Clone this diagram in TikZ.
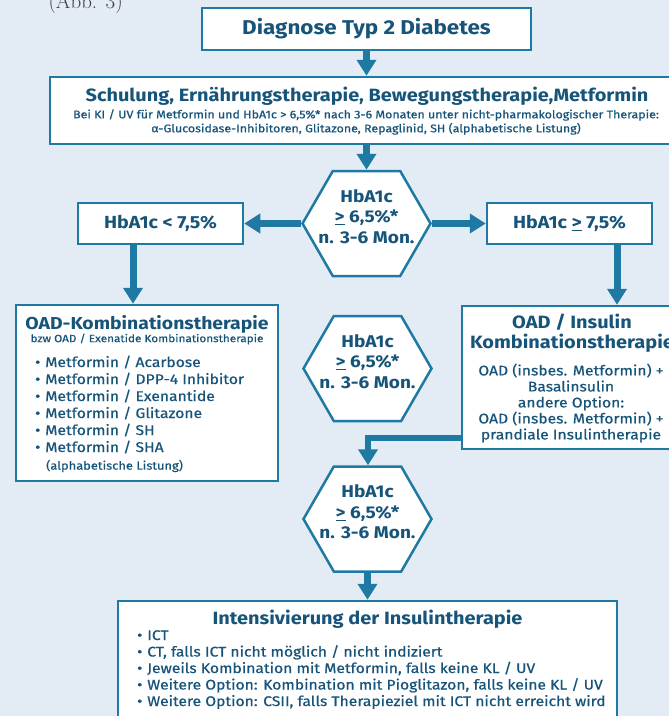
\documentclass[tikz,border=0pt]{standalone}
\usepackage{fontspec}
\newfontfamily\ffont[FakeStretch=1.12]{Fira Sans}
\newfontfamily\fmed[FakeStretch=1.12,FakeBold=0.6]{Fira Sans}
\usepackage{xcolor}
\usetikzlibrary{arrows.meta,positioning,shapes.symbols}
\definecolor{bgblue}{RGB}{227,236,245}
\definecolor{lineblue}{RGB}{30,122,162}
\definecolor{txtblue}{RGB}{22,84,122}
\newcommand{\itm}{•\hspace{5pt}}
\tikzset{%
	box/.style     = {draw=lineblue, line width=2.5pt, fill=white, rectangle, text=txtblue, inner sep=0pt},
	hexa/.style    = {draw=lineblue, line width=2.5pt, fill=white, shape=signal, signal to=east and west, signal pointer angle=120, minimum width=128pt, minimum height=105pt, inner sep=0pt},
	hextext/.style = {text=txtblue, font=\ffont\fontsize{17}{20.5}\selectfont\bfseries, align=center, inner sep=0pt},
	ttl/.style     = {text=txtblue, font=\ffont\fontsize{17.8}{20}\selectfont\bfseries, align=center, inner sep=0pt},
	headline/.style= {font=\ffont\fontsize{17.5}{20}\selectfont\bfseries},
	sml/.style     = {text=txtblue, font=\fmed\fontsize{11.5}{14}\selectfont, align=center, inner sep=0pt},
	lst/.style     = {text=txtblue, font=\fmed\fontsize{14}{17}\selectfont, align=left, anchor=north west, inner sep=0pt},
	arrow/.style   = {line width=7pt, draw=lineblue, -{Triangle[length=16pt,width=19pt]}},
}

\begin{document}
\begin{tikzpicture}[x=1pt,y=-1pt]
	\fill[bgblue] (0,0) rectangle (669,716);
	\useasboundingbox (0,0) rectangle (669,716);
	\node[anchor=base west, font=\fontsize{21}{24}\selectfont, text=black!75] (abb) at (45,8) {(Abb. 3)};
	% boxes
	\node[box, minimum width=329pt, minimum height=42pt, font=\ffont\fontsize{20}{24}\selectfont\bfseries] (diag) at (366.5,29) {Diagnose Typ 2 Diabetes};
	\node[box, minimum width=634pt, minimum height=67pt] (schul) at (367,110.5) {};
	\node[ttl] (schult) at (367,96) {Schulung, Ernährungstherapie, Bewegungstherapie,Metformin};
	\node[sml, font=\fmed\fontsize{11.1}{14}\selectfont] (schuls) at (366,122) {Bei KI / UV für Metformin und HbA1c > 6,5\%* nach 3-6 Monaten unter nicht-pharmakologischer Therapie:\\α-Glucosidase-Inhibitoren, Glitazone, Repaglinid, SH (alphabetische Listung)};
	\node[hexa] (h1) at (366.5,223.5) {};
	\node[hextext] (h1t) at (366.5,216.5) {HbA1c\\\underline{>} 6,5\%*\\n. 3-6 Mon.};
	\node[box, headline, minimum width=165pt, minimum height=41pt] (lt) at (160.5,223.5) {HbA1c < 7,5\%};
	\node[box, headline, minimum width=165pt, minimum height=41pt] (ge) at (569.5,223.5) {HbA1c \underline{>} 7,5\%};
	\node[box, minimum width=262pt, minimum height=176pt] (oad) at (147,393) {};
	\node[ttl, font=\ffont\fontsize{17.3}{20}\selectfont\bfseries] (oadt) at (147,324) {OAD-Kombinationstherapie};
	\node[sml, font=\fmed\fontsize{10.5}{14}\selectfont] (oads) at (147,339) {bzw OAD / Exenatide Kombinationstherapie};
	\node[lst] (oadl) at (35,355.5) {\itm Metformin / Acarbose\\\itm Metformin / DPP-4 Inhibitor\\\itm Metformin / Exenantide\\\itm Metformin / Glitazone\\\itm Metformin / SH\\\itm Metformin / SHA};
	\node[sml, anchor=west] (oadn) at (46,466) {(alphabetische Listung)};
	\node[hexa] (h2) at (367.5,368.5) {};
	\node[hextext] (h2t) at (367.5,361.5) {HbA1c\\\underline{>} 6,5\%*\\n. 3-6 Mon.};
	\node[box, minimum width=220pt, minimum height=143pt] (oi) at (572,377.5) {};
	\node[ttl] (oit) at (572,333) {OAD / Insulin\\Kombinationstherapie};
	\node[lst, anchor=center, align=center, font=\fmed\fontsize{14}{16}\selectfont] (oib) at (571,403) {OAD (insbes. Metformin) +\\Basalinsulin\\andere Option:\\OAD (insbes. Metformin) +\\prandiale Insulintherapie};
	\node[hexa] (h3) at (367.5,519) {};
	\node[hextext] (h3t) at (367.5,512) {HbA1c\\\underline{>} 6,5\%*\\n. 3-6 Mon.};
	\node[box, minimum width=499pt, minimum height=139pt] (intens) at (367.5,670.5) {};
	\node[ttl] (intenst) at (367.5,619) {Intensivierung der Insulintherapie};
	\node[lst, font=\fmed\fontsize{14}{16.5}\selectfont] (intensl) at (137,630) {\itm ICT\\\itm CT, falls ICT nicht möglich / nicht indiziert\\\itm Jeweils Kombination mit Metformin, falls keine KL / UV\\\itm Weitere Option: Kombination mit Pioglitazon, falls keine KL / UV\\\itm Weitere Option: CSII, falls Therapieziel mit ICT nicht erreicht wird};
	% connectors
	\coordinate (ldown) at (133,0);
	\coordinate (rdown) at (617,0);
	\coordinate (knick) at (368,438);
	\draw[arrow] (diag.south) -- (diag.south |- schul.north);
	\draw[arrow] (schul.south -| h1.north) -- (h1.north);
	\draw[arrow] (h1.west) -- (lt.east);
	\draw[arrow] (h1.east) -- (ge.west);
	\draw[arrow] (lt.south -| ldown) -- (oad.north -| ldown);
	\draw[arrow] (ge.south -| rdown) -- (oi.north -| rdown);
	\draw[arrow, line width=6pt] (oi.west |- knick) -- (knick) -- (h3.north -| knick);
	\draw[arrow] (h3.south) -- (intens.north -| h3.south);
\end{tikzpicture}
\end{document}
